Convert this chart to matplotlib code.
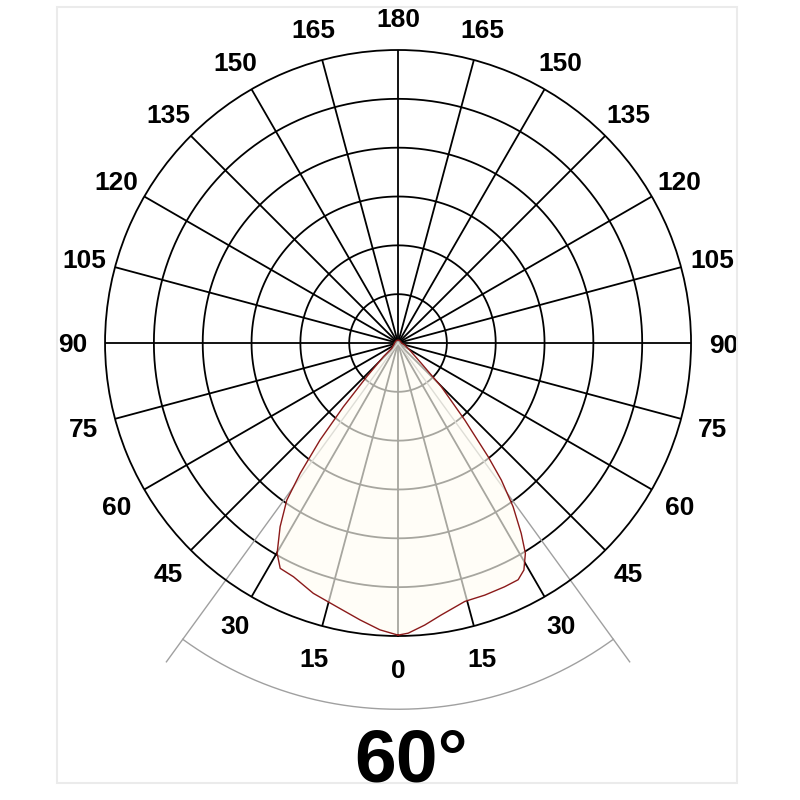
import numpy as np
import matplotlib
matplotlib.use('Agg')
import matplotlib.pyplot as plt
from matplotlib.patches import Rectangle

# relative intensity (outer ring = 1.0)
right_angles = [0, 2, 5.4, 9, 14.5, 19, 23.6, 26.9, 29, 31.2, 32.9, 35.1, 37, 38.4,
                40.9, 44.7, 48.9, 59, 73, 90, 120, 150, 180]
right_vals = [0.997, 0.991, 0.967, 0.94, 0.911, 0.91, 0.908, 0.906, 0.886, 0.839,
              0.774, 0.683, 0.586, 0.495, 0.348, 0.21, 0.105, 0.046, 0.024, 0.012,
              0.01, 0.01, 0.01]
left_angles = [0, 3.6, 7.8, 13.1, 18.7, 24.1, 27.6, 29.9, 32.7, 35.3, 36.9, 38.8,
               40.6, 42.9, 47, 50, 70, 90, 120, 150, 180]
left_vals = [0.997, 0.981, 0.954, 0.924, 0.902, 0.874, 0.868, 0.828, 0.745, 0.657,
             0.556, 0.425, 0.287, 0.157, 0.068, 0.028, 0.015, 0.012, 0.01, 0.01, 0.01]

tick_angles = [0, 15, 30, 45, 60, 75, 90, 105, 120, 135, 150, 165, 180]
n_rings = 6
beam_label = '60°'
beam_mark = 36

plt.rcParams['font.family'] = ['Liberation Sans', 'DejaVu Sans']

fig = plt.figure(figsize=(8, 8), dpi=100)
fig.patches.append(Rectangle((57 / 800, 1 - 783 / 800), 680 / 800, 776 / 800,
                             transform=fig.transFigure, fill=False,
                             edgecolor='#ebebeb', lw=1.5))

ax = fig.add_axes([0.1313, 0.205, 0.7325, 0.7325], projection='polar')
ax.set_theta_zero_location('S')
ax.set_theta_direction(1)
ax.set_ylim(0, 1)
ax.set_xticks([])
ax.set_yticks([])
ax.grid(False)
ax.spines['polar'].set_linewidth(1.3)
ax.spines['polar'].set_color('black')

# grid: rings and spokes
th = np.radians(np.linspace(0, 360, 361))
for i in range(1, n_rings):
    ax.plot(th, np.full_like(th, i / n_rings), color='black', lw=1.3, zorder=1)
for a in range(0, 360, 15):
    ax.plot([np.radians(a)] * 2, [0, 1], color='black', lw=1.3, zorder=1)

# beam angle marker
for s in (-1, 1):
    ax.plot([np.radians(s * beam_mark)] * 2, [0, 1.345], color='#a0a0a0', lw=1.0,
            zorder=1, clip_on=False)
arc = np.radians(np.linspace(-beam_mark, beam_mark, 200))
ax.plot(arc, np.full_like(arc, 1.25), color='#a0a0a0', lw=1.0, clip_on=False)

# curve
theta = np.concatenate([np.radians(right_angles), -np.radians(left_angles[::-1])])
vals = np.concatenate([right_vals, left_vals[::-1]])
ax.fill(theta, vals, facecolor='#fffdf3', alpha=0.66, zorder=2)
ax.plot(theta, vals, color='#8b1a1a', lw=1.0, zorder=3)

# angle labels
for a in tick_angles:
    for s in ((1,) if a in (0, 180) else (1, -1)):
        ax.text(np.radians(s * a), 1.11, str(a), ha='center', va='center_baseline',
                fontsize=19, fontweight='bold', clip_on=False)

fig.text(411.5 / 800, 1 - 781 / 800, beam_label, ha='center', va='baseline',
         fontsize=54, fontweight='bold')

fig.savefig('out.png', dpi=100)
